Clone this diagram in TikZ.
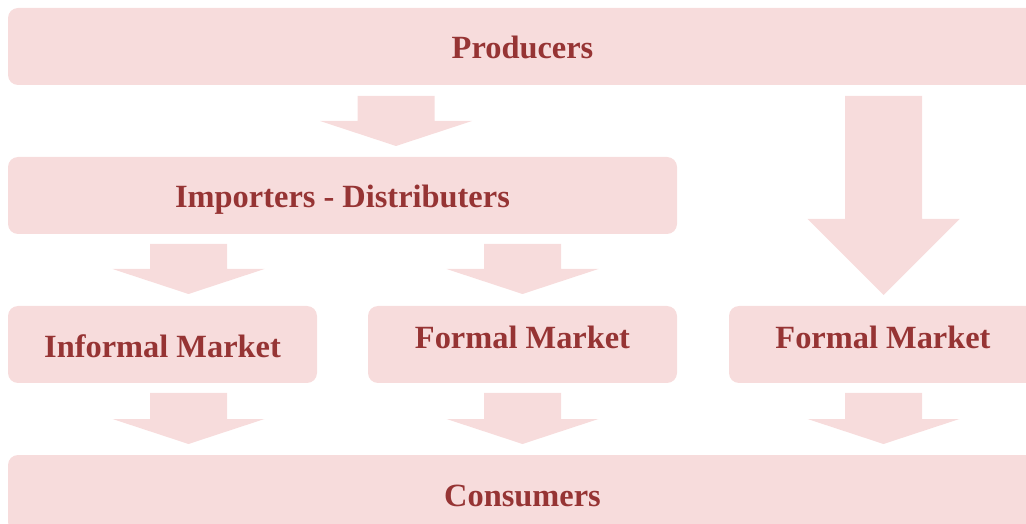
\documentclass[tikz,border=0pt]{standalone}
\usepackage{fontspec}
\setmainfont{Liberation Serif}
\usepackage{xcolor}
\usepackage{tikz}
\usetikzlibrary{positioning}

\definecolor{boxpink}{RGB}{247,220,220}
\definecolor{boxtext}{RGB}{150,52,52}

% block arrow pointing down: centre x, top, start of head, tip
\newcommand{\blockarrow}[5][38.5]{%
  \fill[boxpink] (#2-#1,#3) -- (#2+#1,#3) -- (#2+#1,#4) -- (#2+76,#4)
    -- (#2,#5) -- (#2-76,#4) -- (#2-#1,#4) -- cycle;}

\tikzset{
  stage/.style={fill=boxpink, rounded corners=7.5pt, minimum height=57.75pt,
    inner sep=0pt, text=boxtext, font=\fontsize{24.3}{29}\selectfont\bfseries,
    text height=18.75pt, text depth=0pt},
  raised/.style={text depth=12.75pt}
}

\begin{document}
\begin{tikzpicture}[x=0.75pt, y=-0.75pt]
\useasboundingbox (0,0) rectangle (1026,524);
\clip (0,0) rectangle (1026,524);

\node[stage, minimum width=771.75pt] (prod) at (522.5,46.5) {Producers};
\node[stage, minimum width=501.75pt] (imp) at (342.5,195.5) {Importers - Distributers};
\node[stage, minimum width=231.75pt, text height=20.25pt] (inf) at (162.5,344.5) {Informal Market};
\node[stage, raised, minimum width=231.75pt] (form) at (522.5,344.5) {Formal Market};
\node[stage, raised, minimum width=231pt] (formb) at (883,344.5) {Formal Market};
\node[stage, minimum width=771.75pt] (cons) at (522.5,493.5) {Consumers};

% producers to importers, and straight to the formal market
\blockarrow{396}{96}{121}{146}
\blockarrow{883.5}{96}{219}{295}
% importers to both markets
\blockarrow{188.5}{244}{269}{294}
\blockarrow{522.5}{244}{269}{294}
% markets to consumers
\blockarrow{188.5}{393}{419}{444}
\blockarrow{522.5}{393}{419}{444}
\blockarrow{883.5}{393}{419}{444}
\end{tikzpicture}
\end{document}
